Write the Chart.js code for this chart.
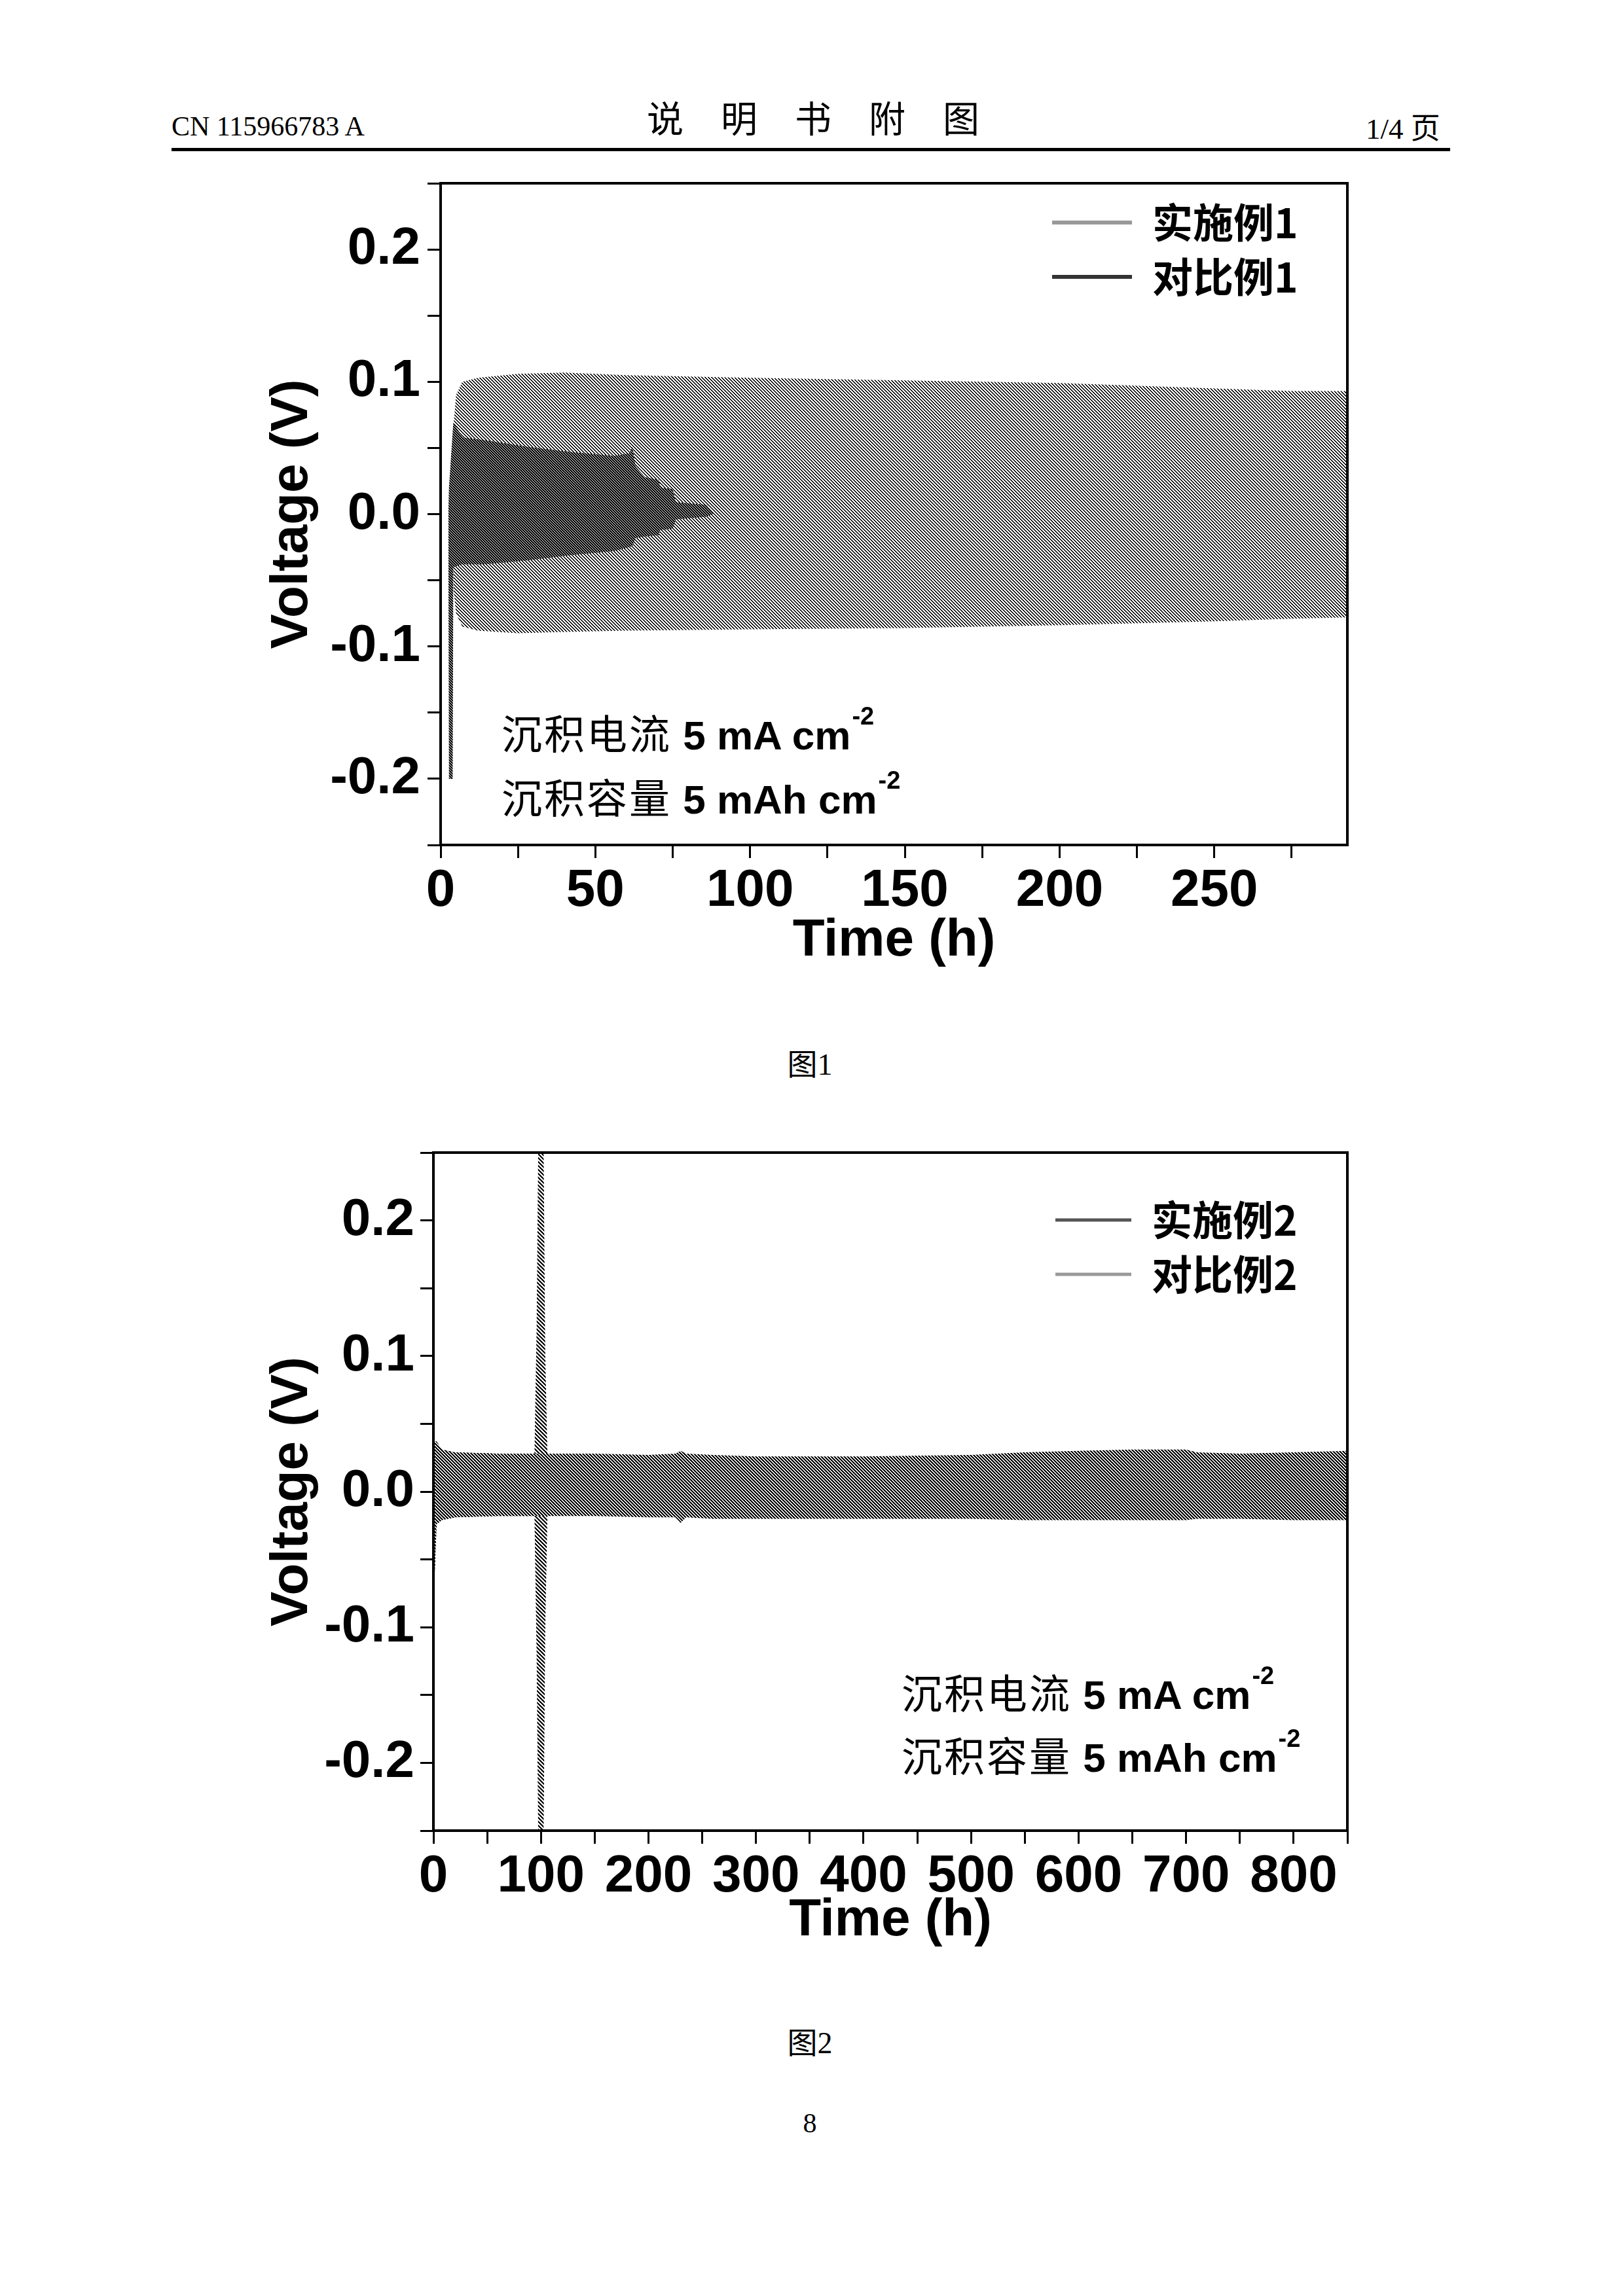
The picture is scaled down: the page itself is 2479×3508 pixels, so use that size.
<!DOCTYPE html>
<html>
<head>
<meta charset="utf-8">
<title>说明书附图</title>
<script src="https://cdn.jsdelivr.net/npm/chart.js@4.4.1/dist/chart.umd.min.js"></script>
<style>
  html, body { margin: 0; padding: 0; background: #fff; }
  body { width: 2479px; height: 3508px; position: relative; overflow: hidden; color: #000; }
  .abs { position: absolute; white-space: nowrap; }
  .serif { font-family: 'Liberation Serif', serif; }
  .zh { font-family: 'Noto Sans CJK SC', sans-serif; font-weight: normal; }
  .note { font: bold 62px 'Liberation Sans', Arial, sans-serif; line-height: 62px; }
  .note .zh { letter-spacing: 3px; }
  .note .sup { font-size: 38px; position: relative; top: -38px; margin-left: 2px; }
  canvas { position: absolute; }
</style>
</head>
<body>

<div class="abs serif" style="left:262px; top:172px; font-size:42px; line-height:42px;">CN 115966783 A</div>
<div class="abs zh" style="left:988px; top:150px; font-size:56px; line-height:56px; letter-spacing:57px;">说明书附图</div>
<div class="abs serif" style="left:2086px; top:170px; font-size:45px; line-height:45px;">1/4 <span class="zh">页</span></div>
<div class="abs" style="left:262px; top:226px; width:1953px; height:5px; background:#000;"></div>

<canvas id="fig1" width="1720" height="1266" style="left:380px; top:220px; width:1720px; height:1266px;"></canvas>
<div class="abs note" style="left:766px; top:1087px;"><span class="zh">沉积电流</span> 5 mA cm<span class="sup">-2</span></div>
<div class="abs note" style="left:766px; top:1185px;"><span class="zh">沉积容量</span> 5 mAh cm<span class="sup">-2</span></div>
<div class="abs" style="left:1137px; top:1597px; width:200px; text-align:center; font-size:46px; line-height:50px;"><span class="zh">图</span><span class="serif">1</span></div>

<canvas id="fig2" width="1731" height="1282" style="left:369px; top:1701px; width:1731px; height:1282px;"></canvas>
<div class="abs note" style="left:1377px; top:2553px;"><span class="zh">沉积电流</span> 5 mA cm<span class="sup">-2</span></div>
<div class="abs note" style="left:1377px; top:2649px;"><span class="zh">沉积容量</span> 5 mAh cm<span class="sup">-2</span></div>
<div class="abs" style="left:1137px; top:3092px; width:200px; text-align:center; font-size:46px; line-height:50px;"><span class="zh">图</span><span class="serif">2</span></div>
<div class="abs serif" style="left:1137px; top:3222px; width:200px; text-align:center; font-size:42px; line-height:44px;">8</div>

<script>
'use strict'

// ---- 图1 ----
// 实施例1：电压曲线上/下包络，时间 h，电压 V
var t1   = [3.8, 4.2, 5, 7, 12, 25, 40, 60, 100, 150, 200, 250, 275, 293];
var top1 = [0, 0.068, 0.09, 0.1, 0.103, 0.106, 0.107, 0.105, 0.103, 0.101, 0.099, 0.095, 0.093, 0.093];
var bot1 = [0, -0.057, -0.075, -0.085, -0.088, -0.09, -0.089, -0.088, -0.087, -0.086, -0.084, -0.081, -0.079, -0.078];

// 对比例1
var tc1   = [2.5, 2.7, 3.9, 4.1, 5.5, 7, 14, 28, 42, 56, 61, 62, 63, 66, 70.5, 71, 75, 76, 86, 88];
var topc1 = [0, 0.02, 0.062, 0.069, 0.064, 0.058, 0.056, 0.051, 0.047, 0.044, 0.046, 0.051, 0.036, 0.028, 0.026, 0.02, 0.019, 0.009, 0.007, 0.001];
var botc1 = [0, -0.2, -0.2, -0.04, -0.039, -0.038, -0.038, -0.035, -0.031, -0.028, -0.025, -0.024, -0.018, -0.017, -0.016, -0.012, -0.011, -0.004, -0.002, 0];

// ---- 图2 ----
// 实施例2
var t2   = [0.3, 1, 3, 8, 20, 60, 100, 150, 200, 225, 230, 235, 260, 300, 400, 500, 550, 600, 650, 700, 710, 750, 800, 850];
var top2 = [0, 0.037, 0.037, 0.031, 0.029, 0.028, 0.028, 0.028, 0.027, 0.028, 0.03, 0.028, 0.027, 0.026, 0.026, 0.027, 0.029, 0.03, 0.031, 0.031, 0.029, 0.028, 0.029, 0.03];
var bot2 = [-0.065, -0.065, -0.024, -0.021, -0.019, -0.018, -0.018, -0.018, -0.019, -0.019, -0.023, -0.019, -0.02, -0.02, -0.02, -0.02, -0.021, -0.021, -0.021, -0.021, -0.02, -0.02, -0.021, -0.021];

// 对比例2 (约100 h 处电压失控)
var tc2   = [0.3, 1, 3, 8, 20, 60, 94, 96, 98, 102, 104, 106, 106.5];
var topc2 = [0, 0.036, 0.036, 0.031, 0.029, 0.028, 0.028, 0.12, 0.3, 0.3, 0.1, 0.028, 0];
var botc2 = [-0.065, -0.065, -0.024, -0.021, -0.019, -0.018, -0.018, -0.12, -0.3, -0.3, -0.1, -0.018, 0];

var names1 = ['实施例1', '对比例1'];
var names2 = ['实施例2', '对比例2'];

// 刻度标签
var xLabels1 = [0, 50, 100, 150, 200, 250];
var xLabels2 = [0, 100, 200, 300, 400, 500, 600, 700, 800];
var yLabels  = [-0.2, -0.1, 0, 0.1, 0.2];

function pts(t, v) {
    return t.map(function (x, i) { return {x: x, y: v[i]}; });
}

// 扫描件里的灰度是像素级斜线网纹：每 gap 个像素里 w 个是黑的
function hatch(gap, w) {
    var c = document.createElement('canvas');
    c.width = gap; c.height = gap;
    var g = c.getContext('2d');
    var img = g.createImageData(gap, gap);
    for (var y = 0; y < gap; y++) {
        for (var x = 0; x < gap; x++) {
            var v = (((x - y) % gap) + gap) % gap < w ? 0 : 255;
            var i = (y * gap + x) * 4;
            img.data[i] = img.data[i + 1] = img.data[i + 2] = v;
            img.data[i + 3] = 255;
        }
    }
    g.putImageData(img, 0, 0);
    return g.createPattern(c, 'repeat');
}

function band(label, t, hi, lo, fillStyle, order) {
    return [{
        label: label,
        data: pts(t, hi),
        fill: '+1',
        backgroundColor: fillStyle,
        borderColor: 'rgba(0,0,0,0)',
        borderWidth: 0,
        pointRadius: 0,
        tension: 0,
        order: order
    }, {
        label: '',
        data: pts(t, lo),
        fill: false,
        borderColor: 'rgba(0,0,0,0)',
        borderWidth: 0,
        pointRadius: 0,
        tension: 0,
        order: order
    }];
}

function isIn(list, v) {
    return list.some(function (a) { return Math.abs(a - v) < 1e-6; });
}

// 图框
var frame = {
    id: 'frame',
    afterDatasetsDraw: function (chart) {
        var a = chart.chartArea, c = chart.ctx;
        c.save();
        c.lineWidth = 4;
        c.strokeStyle = '#000';
        c.strokeRect(a.left, a.top, a.right - a.left, a.bottom - a.top);
        c.restore();
    }
};

// 把图例挪到绘图区右上角
var legendSpot = {
    id: 'legendSpot',
    afterLayout: function (chart, args, opts) {
        var lg = chart.legend;
        lg.left = chart.chartArea.right - opts.dx;
        lg.top = chart.chartArea.top + opts.dy;
        lg.right = lg.left + lg.width;
        lg.bottom = lg.top + lg.height;
    }
};

function makeChart(id, cfg) {
    var ctx = document.getElementById(id).getContext('2d');
    return new Chart(ctx, {
        type: 'line',
        data: {datasets: cfg.datasets},
        options: {
            responsive: false,
            animation: false,
            events: [],
            layout: {padding: {top: 60, right: 42, left: 0, bottom: 0}},
            plugins: {
                tooltip: {enabled: false},
                legendSpot: {dx: cfg.legendDx, dy: cfg.legendDy},
                legend: {
                    position: 'chartArea',
                    align: 'start',
                    labels: {
                        boxWidth: cfg.boxWidth,
                        boxHeight: cfg.boxHeight,
                        padding: 21,
                        color: '#000',
                        font: {family: "'Noto Sans CJK SC', sans-serif", size: 62, weight: 'bold'},
                        generateLabels: function () {
                            return cfg.names.map(function (n, i) {
                                return {text: n, fillStyle: cfg.legendInk[i], strokeStyle: cfg.legendInk[i],
                                        lineWidth: 0, hidden: false, datasetIndex: i * 2};
                            });
                        }
                    }
                }
            },
            scales: {
                x: {
                    type: 'linear',
                    min: 0,
                    max: cfg.xMax,
                    afterFit: function (s) { s.height = cfg.xHeight; },
                    border: {display: false},
                    grid: {drawOnChartArea: false, drawTicks: true, tickLength: 20, tickWidth: 3, tickColor: '#000'},
                    ticks: {
                        stepSize: cfg.xStep,
                        includeBounds: false,
                        autoSkip: false,
                        maxRotation: 0,
                        padding: 3,
                        color: '#000',
                        font: {family: "'Liberation Sans', Arial, sans-serif", size: 80, weight: 'bold'},
                        callback: function (v) { return isIn(cfg.xLabels, v) ? String(v) : ''; }
                    },
                    title: {
                        display: true,
                        text: 'Time (h)',
                        color: '#000',
                        padding: 0,
                        font: {family: "'Liberation Sans', Arial, sans-serif", size: 80, weight: 'bold'}
                    }
                },
                y: {
                    min: -0.25,
                    max: 0.25,
                    afterFit: function (s) { s.width = 293; },
                    border: {display: false},
                    grid: {drawOnChartArea: false, drawTicks: true, tickLength: 20, tickWidth: 3, tickColor: '#000'},
                    ticks: {
                        stepSize: 0.05,
                        autoSkip: false,
                        padding: cfg.yPad,
                        color: '#000',
                        font: {family: "'Liberation Sans', Arial, sans-serif", size: 80, weight: 'bold'},
                        callback: function (v) {
                            if (!isIn(yLabels, v)) return '';
                            return Math.abs(v) < 1e-9 ? '0.0' : v.toFixed(1);
                        }
                    },
                    title: {
                        display: true,
                        text: 'Voltage (V)',
                        color: '#000',
                        padding: {top: cfg.yTitlePad, bottom: 0},
                        font: {family: "'Liberation Sans', Arial, sans-serif", size: 80, weight: 'bold'}
                    }
                }
            }
        },
        plugins: [frame, legendSpot]
    });
}

var chart1 = makeChart('fig1', {
    datasets: band(names1[0], t1, top1, bot1, hatch(5, 2), 2)
        .concat(band(names1[1], tc1, topc1, botc1, hatch(4, 3), 1)),
    names: names1,
    legendInk: ['#999999', '#333333'],
    boxWidth: 122, boxHeight: 6,
    legendDx: 472, legendDy: 8,
    xMax: 293, xStep: 25, xLabels: xLabels1, xHeight: 195,
    yPad: 11, yTitlePad: 19
});

var chart2 = makeChart('fig2', {
    datasets: band(names2[0], t2, top2, bot2, hatch(5, 3), 1)
        .concat(band(names2[1], tc2, topc2, botc2, hatch(6, 3), 2)),
    names: names2,
    legendInk: ['#555555', '#999999'],
    boxWidth: 116, boxHeight: 5,
    legendDx: 467, legendDy: 51,
    xMax: 850, xStep: 50, xLabels: xLabels2, xHeight: 186,
    yPad: 9, yTitlePad: 30
});
</script>
</body>
</html>
